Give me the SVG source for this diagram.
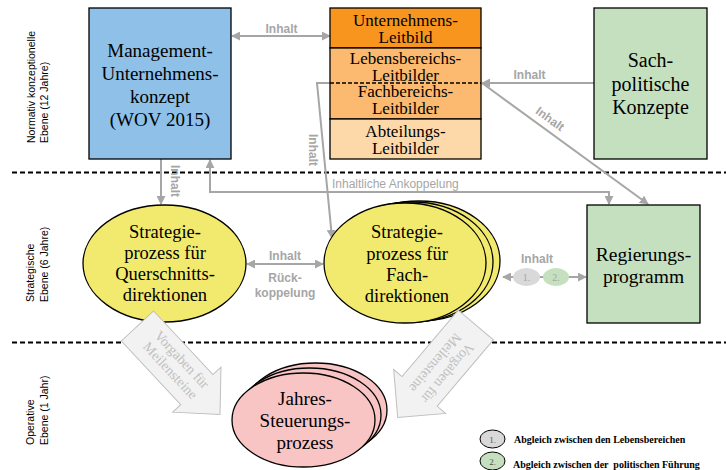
<svg xmlns="http://www.w3.org/2000/svg" width="726" height="470" viewBox="0 0 726 470">
<style>
.node{font-family:"Liberation Serif","Times New Roman",serif;fill:#000;text-anchor:middle}
.lbl{font-family:"Liberation Sans",Arial,sans-serif;font-weight:bold;font-size:12px;fill:#A6A6A6;text-anchor:middle}
.lvl{font-family:"Liberation Sans",Arial,sans-serif;font-size:10.5px;fill:#000}
.con{stroke:#A6A6A6;stroke-width:2;fill:none}
.dash{stroke:#000;stroke-width:2;stroke-dasharray:5 3;fill:none}
.box{stroke:#000;stroke-width:1.3}
.big{fill:#F2F2F2;stroke:#BFBFBF;stroke-width:1}
.bigt{font-family:"Liberation Serif","Times New Roman",serif;font-size:14px;fill:#BFBFBF;text-anchor:middle}
.leg{font-family:"Liberation Serif","Times New Roman",serif;font-size:10px;font-weight:bold;fill:#000}
</style>
<defs>
<marker id="ah" viewBox="0 0 10 10" refX="9" refY="5" markerWidth="9" markerHeight="9" markerUnits="userSpaceOnUse" orient="auto-start-reverse">
<path d="M0,0 L10,5 L0,10 z" fill="#A6A6A6"/>
</marker>
</defs>
<rect width="726" height="470" fill="#fff"/>

<g id="levels">
<path class="dash" d="M12,172.5 H726"/>
<path class="dash" d="M12,342.5 H726"/>
<g class="lvl">
<text transform="translate(35,143) rotate(-90)">Normativ konzeptionelle</text>
<text transform="translate(48,143) rotate(-90)">Ebene (12 Jahre)</text>
<text transform="translate(34,302) rotate(-90)">Strategische</text>
<text transform="translate(48,302) rotate(-90)">Ebene (6 Jahre)</text>
<text transform="translate(34,445) rotate(-90)">Operative</text>
<text transform="translate(48,445) rotate(-90)">Ebene (1 Jahr)</text>
</g>
</g>

<g id="connectors">
<path class="con" d="M232,36 H330" marker-start="url(#ah)" marker-end="url(#ah)"/>
<text class="lbl" x="281.5" y="33">Inhalt</text>
<path class="con" d="M594,83 H482" marker-end="url(#ah)"/>
<text class="lbl" x="529.5" y="79">Inhalt</text>
<path class="con" d="M482,83 L648,204" marker-end="url(#ah)"/>
<text class="lbl" transform="translate(550,119) rotate(36)" y="4">Inhalt</text>
<path class="con" d="M330,83 H317 L332,238" marker-end="url(#ah)"/>
<text class="lbl" transform="translate(309,150) rotate(90)">Inhalt</text>
<path class="con" d="M161,159 V204" marker-end="url(#ah)"/>
<text class="lbl" transform="translate(171,181) rotate(90)">Inhalt</text>
<path class="con" d="M609,204 V192 H210 V160" marker-start="url(#ah)" marker-end="url(#ah)"/>
<text x="332" y="188" style="font-family:'Liberation Sans',Arial,sans-serif;font-size:12px;fill:#A6A6A6">Inhaltliche Ankoppelung</text>
<path class="con" d="M247,264 H323" marker-start="url(#ah)" marker-end="url(#ah)"/>
<text class="lbl" x="285" y="260">Inhalt</text>
<text class="lbl" x="285" y="282">Rück-</text>
<text class="lbl" x="285" y="297">koppelung</text>
<path class="con" d="M503,277 H586" marker-start="url(#ah)" marker-end="url(#ah)"/>
<text class="lbl" x="537" y="263">Inhalt</text>
<ellipse cx="526.5" cy="277" rx="13.5" ry="9" fill="#D9D9D9"/>
<text x="526.5" y="281" style="font-family:'Liberation Serif',serif;font-size:10px;fill:#A6A6A6;text-anchor:middle">1.</text>
<ellipse cx="556" cy="277" rx="13" ry="9" fill="#C5E0BF"/>
<text x="556" y="281" style="font-family:'Liberation Serif',serif;font-size:10px;fill:#A6A6A6;text-anchor:middle">2.</text>
</g>

<g id="management">
<rect class="box" x="89" y="8" width="142" height="151" fill="#8EC0E8"/>
<g class="node" style="font-size:19px">
<text x="160" y="57">Management-</text>
<text x="160" y="80">Unternehmens-</text>
<text x="160" y="103">konzept</text>
<text x="160" y="126">(WOV 2015)</text>
</g>
</g>

<g id="leitbilder">
<rect x="330" y="8" width="151" height="40" fill="#F8951E" class="box"/>
<rect x="330" y="48" width="151" height="71" fill="#FBBA6F" class="box"/>
<rect x="330" y="119" width="151" height="40" fill="#FDD9AA" class="box"/>
<path d="M330,83 H481" stroke="#000" stroke-width="1.3" stroke-dasharray="4 2"/>
<g class="node" style="font-size:17px">
<text x="405.5" y="26">Unternehmens-</text>
<text x="405.5" y="43">Leitbild</text>
<text x="405.5" y="64">Lebensbereichs-</text>
<text x="405.5" y="81">Leitbilder</text>
<text x="405.5" y="97">Fachbereichs-</text>
<text x="405.5" y="114">Leitbilder</text>
<text x="405.5" y="137">Abteilungs-</text>
<text x="405.5" y="154">Leitbilder</text>
</g>
</g>

<g id="sach">
<rect class="box" x="594" y="8" width="113" height="151" fill="#C5E0BF"/>
<g class="node" style="font-size:20px">
<text x="650.5" y="67">Sach-</text>
<text x="650.5" y="91">politische</text>
<text x="650.5" y="114">Konzepte</text>
</g>
</g>

<g id="querschnitt">
<ellipse class="box" cx="164.5" cy="263.5" rx="81.5" ry="58.5" fill="#F2EA6E"/>
<g class="node" style="font-size:18.5px">
<text x="165" y="238">Strategie-</text>
<text x="165" y="259">prozess für</text>
<text x="165" y="280">Querschnitts-</text>
<text x="165" y="301">direktionen</text>
</g>
</g>

<g id="fach">
<ellipse class="box" cx="419" cy="261" rx="81" ry="60" fill="#F2EA6E"/>
<ellipse class="box" cx="412" cy="262" rx="81" ry="60" fill="#F2EA6E"/>
<ellipse class="box" cx="405" cy="263" rx="81" ry="60" fill="#F2EA6E"/>
<g class="node" style="font-size:18.5px">
<text x="407" y="238">Strategie-</text>
<text x="407" y="260">prozess für</text>
<text x="407" y="281">Fach-</text>
<text x="407" y="302">direktionen</text>
</g>
</g>

<g id="regierung">
<rect class="box" x="587" y="205" width="113" height="118" fill="#C5E0BF"/>
<g class="node" style="font-size:19.5px">
<text x="643.5" y="261">Regierungs-</text>
<text x="643.5" y="283">programm</text>
</g>
</g>

<g id="jahres">
<ellipse class="box" cx="315.5" cy="410" rx="71.5" ry="47" fill="#F8C4C4"/>
<ellipse class="box" cx="309.5" cy="415" rx="71.5" ry="47" fill="#F8C4C4"/>
<ellipse class="box" cx="303.5" cy="420" rx="71.5" ry="47" fill="#F8C4C4"/>
<g class="node" style="font-size:19px">
<text x="305" y="405">Jahres-</text>
<text x="305" y="427">Steuerungs-</text>
<text x="305" y="449">prozess</text>
</g>
</g>

<g id="vorgaben-links" transform="translate(137.5,326) rotate(47)">
<polygon class="big" points="0,-22 87,-22 87,-33 121,0 87,33 87,22 0,22"/>
<text class="bigt" x="55" y="-5">Vorgaben für</text>
<text class="bigt" x="55" y="11">Meilensteine</text>
</g>

<g id="vorgaben-rechts" transform="translate(475.8,325) rotate(130.2)">
<polygon class="big" points="0,-23 87,-23 87,-34 121,0 87,34 87,23 0,23"/>
<text class="bigt" x="55" y="-5">Vorgaben für</text>
<text class="bigt" x="55" y="11">Meilensteine</text>
</g>

<g id="legend">
<ellipse cx="492.5" cy="439" rx="12.5" ry="9" fill="#D9D9D9" stroke="#000" stroke-width="1"/>
<text x="492.5" y="442.5" style="font-family:'Liberation Serif',serif;font-size:9px;fill:#555;text-anchor:middle">1.</text>
<text class="leg" x="514" y="443">Abgleich zwischen den Lebensbereichen</text>
<ellipse cx="492.5" cy="461" rx="12.5" ry="9" fill="#C5E0BF" stroke="#000" stroke-width="1"/>
<text x="492.5" y="464.5" style="font-family:'Liberation Serif',serif;font-size:9px;fill:#555;text-anchor:middle">2.</text>
<text class="leg" x="513" y="468" xml:space="preserve">Abgleich zwischen der  politischen Führung</text>
</g>
</svg>
